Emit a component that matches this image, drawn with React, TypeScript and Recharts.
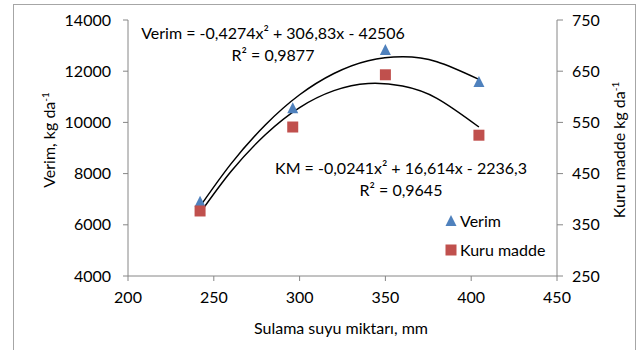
import React from 'react';
import { ComposedChart, Scatter, Line, XAxis, YAxis } from 'recharts';

const sulama = [242, 296, 350, 404.5];
const verim = [6900, 10550, 12830, 11580];
const kuruMadde = [377, 541, 643, 525];

// trendline points
const trendX = [242, 260, 280, 300, 320, 340, 360, 380, 404.5];
const verimTrend = [6720, 8380, 9900, 11080, 11910, 12410, 12560, 12370, 11680];
const kuruTrend = [373, 454, 526, 579, 612, 626, 621, 597, 541];

const xTicks = [200, 250, 300, 350, 400, 450];
const leftTicks = [4000, 6000, 8000, 10000, 12000, 14000];
const rightTicks = [250, 350, 450, 550, 650, 750];

const verimData = sulama.map((x, i) => ({ x, y: verim[i] }));
const kuruData = sulama.map((x, i) => ({ x, y: kuruMadde[i] }));
const verimTrendData = trendX.map((x, i) => ({ x, v: verimTrend[i] }));
const kuruTrendData = trendX.map((x, i) => ({ x, v: kuruTrend[i] }));

const FONT = 'Lato, "Open Sans", sans-serif';
const BLUE = '#4F81BD';
const RED = '#C0504D';
const AXIS = '#868686';

const Triangle = (props: any) => {
  const { cx, cy } = props;
  const s = 11;
  const h = 10;
  return (
    <polygon
      points={`${cx},${cy - h / 2 - 1} ${cx - s / 2},${cy + h / 2} ${cx + s / 2},${cy + h / 2}`}
      fill={BLUE}
    />
  );
};

const Square = (props: any) => {
  const { cx, cy } = props;
  const s = 11;
  return <rect x={cx - s / 2} y={cy - s / 2} width={s} height={s} fill={RED} />;
};

const tickStyle = { fontSize: 16, fill: '#000', fontFamily: FONT };

export default function App() {
  return (
    <div style={{ position: 'absolute', left: 0, top: 0, width: 639, height: 350, background: '#fff' }}>
      <ComposedChart width={639} height={350} margin={{ top: 20, right: 0, bottom: 0, left: 0 }}>
        <XAxis
          type="number"
          dataKey="x"
          domain={[200, 450]}
          ticks={xTicks}
          allowDataOverflow
          height={74}
          tick={tickStyle}
          tickSize={5}
          tickMargin={11}
          stroke={AXIS}
        />
        <YAxis
          yAxisId="left"
          type="number"
          domain={[4000, 14000]}
          ticks={leftTicks}
          width={128}
          tick={tickStyle}
          tickSize={5}
          tickMargin={12}
          stroke={AXIS}
        />
        <YAxis
          yAxisId="right"
          orientation="right"
          type="number"
          domain={[250, 750]}
          ticks={rightTicks}
          width={82}
          tick={{ ...tickStyle, textAnchor: 'start' }}
          tickSize={6}
          tickMargin={9}
          stroke={AXIS}
        />
        <Scatter yAxisId="left" data={verimData} dataKey="y" shape={<Triangle />} isAnimationActive={false} />
        <Scatter yAxisId="right" data={kuruData} dataKey="y" shape={<Square />} isAnimationActive={false} />
        <Line
          yAxisId="left"
          data={verimTrendData}
          dataKey="v"
          type="natural"
          stroke="#000"
          strokeWidth={1.5}
          dot={false}
          isAnimationActive={false}
        />
        <Line
          yAxisId="right"
          data={kuruTrendData}
          dataKey="v"
          type="natural"
          stroke="#000"
          strokeWidth={1.5}
          dot={false}
          isAnimationActive={false}
        />
      </ComposedChart>
      <svg
        width={639}
        height={350}
        style={{ position: 'absolute', left: 0, top: 0, pointerEvents: 'none', fontFamily: FONT }}
      >
        <rect x={13.5} y={4.5} width={622} height={400} fill="none" stroke="#A6A6A6" />
        <text x={273} y={39} fontSize={16} textAnchor="middle">Verim = -0,4274x² + 306,83x - 42506</text>
        <text x={273} y={61} fontSize={16} textAnchor="middle">R² = 0,9877</text>
        <text x={401} y={174} fontSize={16} textAnchor="middle">KM = -0,0241x² + 16,614x - 2236,3</text>
        <text x={401} y={196} fontSize={16} textAnchor="middle">R² = 0,9645</text>

        <polygon points="451,215 445.5,226 456.5,226" fill={BLUE} />
        <text x={460} y={227} fontSize={16}>Verim</text>
        <rect x={445.5} y={244.5} width={11} height={11} fill={RED} />
        <text x={460} y={256} fontSize={16}>Kuru madde</text>

        <text x={341} y={334} fontSize={16} textAnchor="middle">Sulama suyu miktarı, mm</text>
        <text transform="translate(55,140) rotate(-90)" fontSize={16} textAnchor="middle">
          Verim, kg da<tspan fontSize={10} dy={-6}>-1</tspan>
        </text>
        <text transform="translate(625,150) rotate(-90)" fontSize={16} textAnchor="middle">
          Kuru madde kg da<tspan fontSize={10} dy={-6}>-1</tspan>
        </text>
      </svg>
    </div>
  );
}
